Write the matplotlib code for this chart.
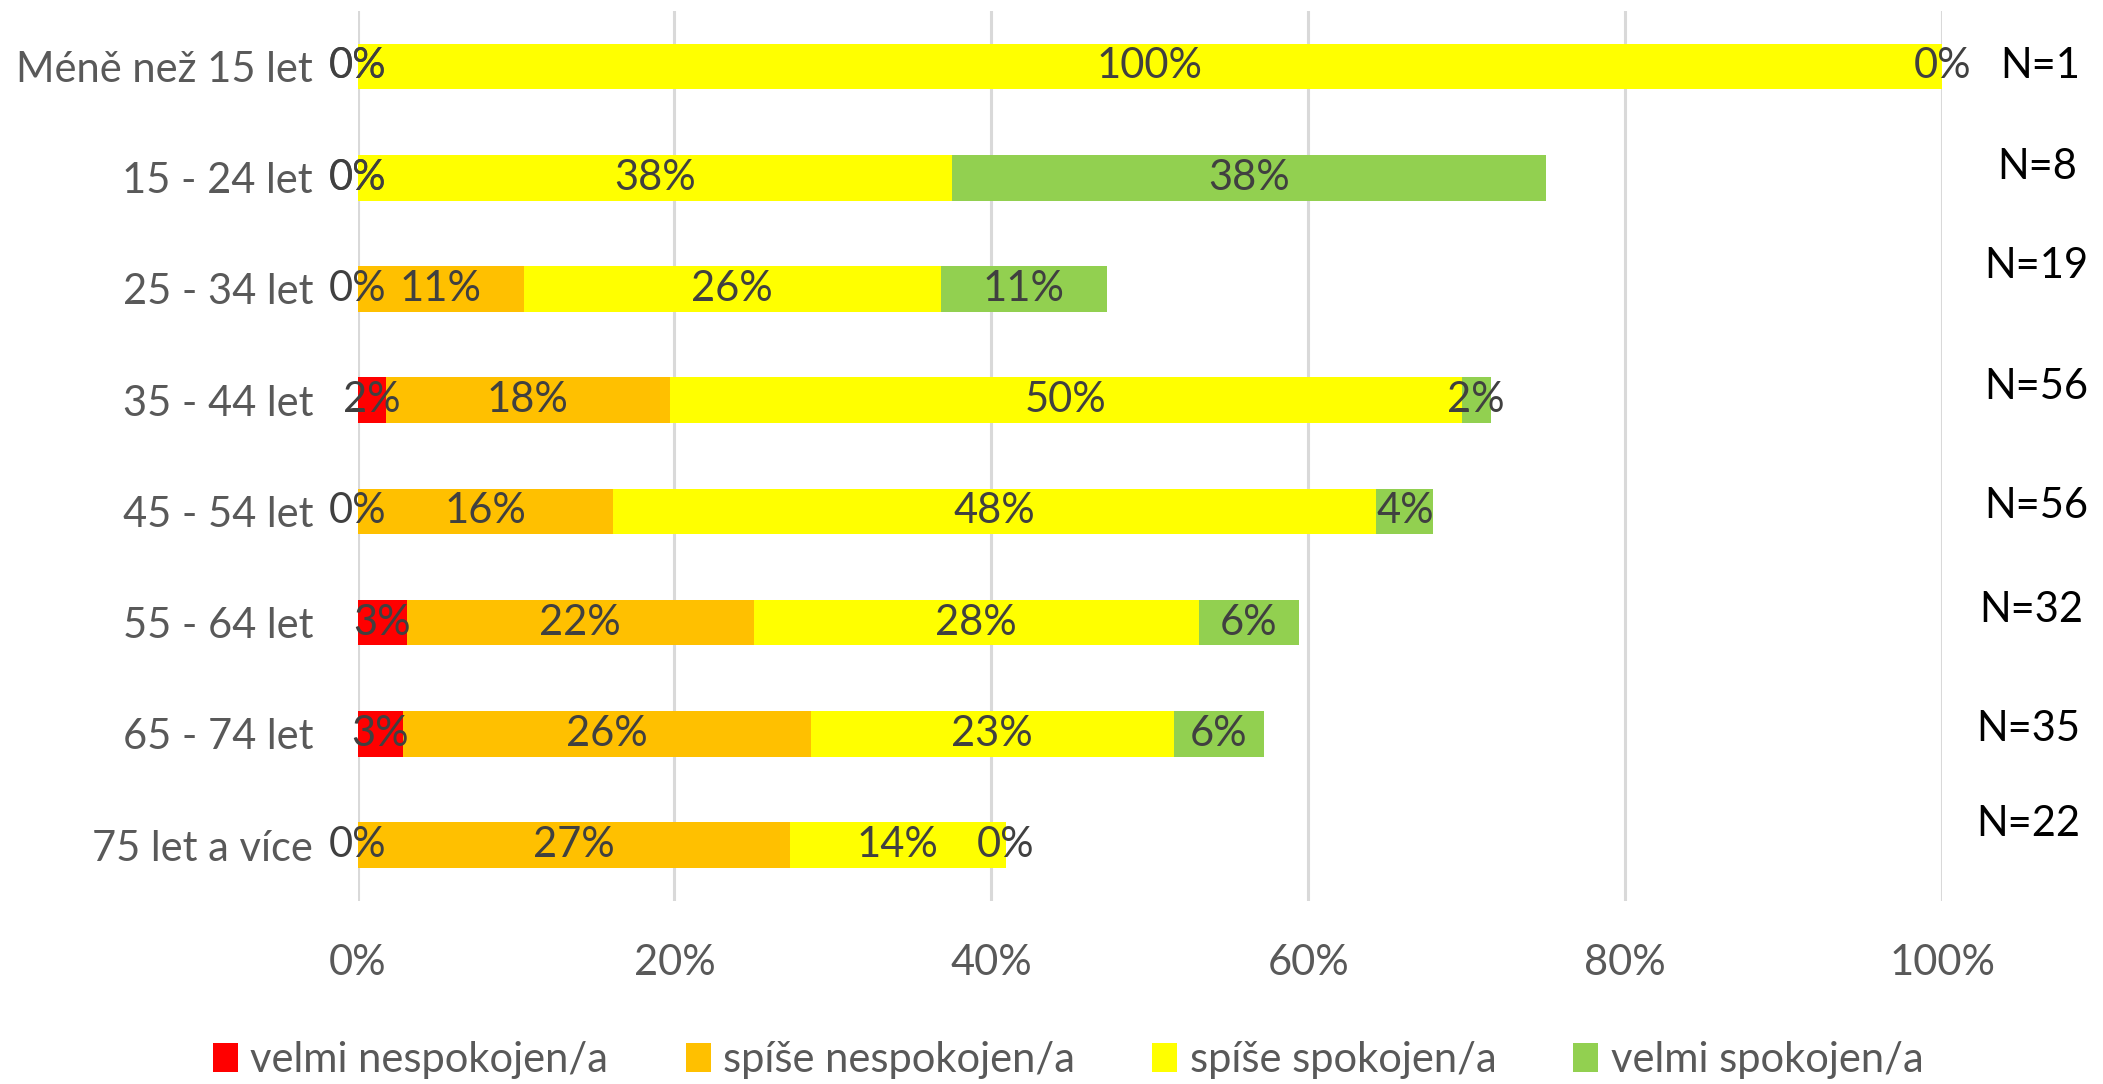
import numpy as np
import matplotlib
matplotlib.use("Agg")
import matplotlib.pyplot as plt
from matplotlib import font_manager as fm

categories = ["Méně než 15 let", "15 - 24 let", "25 - 34 let", "35 - 44 let",
              "45 - 54 let", "55 - 64 let", "65 - 74 let", "75 let a více"]
series_names = ["velmi nespokojen/a", "spíše nespokojen/a", "spíše spokojen/a", "velmi spokojen/a"]
velmi_nespokojen = [0, 0, 0, 1.8, 0, 3.1, 2.9, 0]
spise_nespokojen = [0, 0, 10.5, 17.9, 16.1, 21.9, 25.7, 27.3]
spise_spokojen = [100, 37.5, 26.3, 50.0, 48.2, 28.1, 22.9, 13.6]
velmi_spokojen = [0, 37.5, 10.5, 1.8, 3.6, 6.3, 5.7, 0]
n_labels = ["N=1", "N=8", "N=19", "N=56", "N=56", "N=32", "N=35", "N=22"]
x_ticks = [0, 20, 40, 60, 80, 100]

colors = ["#FF0000", "#FFC000", "#FFFF00", "#92D050"]

names = {f.name for f in fm.fontManager.ttflist}
fam = "Liberation Sans Narrow" if "Liberation Sans Narrow" in names else "Lato"
plt.rcParams['font.family'] = [fam, 'DejaVu Sans']

FS = 30
fig = plt.figure(figsize=(21.03, 10.84), dpi=100)
ax = fig.add_axes([0.170, 0.169, 0.7535, 0.821])

data = [velmi_nespokojen, spise_nespokojen, spise_spokojen, velmi_spokojen]
y = np.arange(len(categories))
left = np.zeros(len(categories))
for vals, col, name in zip(data, colors, series_names):
    vals = np.array(vals, dtype=float)
    ax.barh(y, vals, left=left, height=0.41, color=col, label=name, zorder=3)
    for yi, l, v in zip(y, left, vals):
        ax.text(l + v / 2, yi, f"{int(np.floor(v + 0.5))}%", ha="center", va="center",
                fontsize=FS, color="#404040", zorder=4, clip_on=False)
    left += vals

ax.set_ylim(len(categories) - 0.5, -0.5)
ax.set_xlim(0, 100)
ax.set_xticks(x_ticks)
ax.set_xticklabels([f"{t}%" for t in x_ticks])
ax.set_yticks(y)
ax.set_yticklabels(categories)
ax.tick_params(axis="x", length=0, pad=31, labelsize=FS, labelcolor="#595959")
ax.tick_params(axis="y", length=0, pad=32, labelsize=FS, labelcolor="#595959")
for s in ax.spines.values():
    s.set_visible(False)
ax.grid(axis="x", color="#D9D9D9", linewidth=2.2, zorder=0)
ax.set_axisbelow(True)

n_x = [108.7, 108.5, 109.2, 109.2, 109.2, 108.9, 108.7, 108.7]
n_dy = [0.0, -0.1, -0.21, -0.12, -0.05, -0.11, -0.04, -0.19]
for yi, lab, nx, dy in zip(y, n_labels, n_x, n_dy):
    ax.text(nx, yi + dy, lab, ha="right", va="center", fontsize=FS, color="black", clip_on=False)

fig.legend(loc="center", bbox_to_anchor=(0.508, 0.022), ncol=4, frameon=False,
           fontsize=FS, handlelength=0.6, handleheight=0.7, handletextpad=0.3,
           columnspacing=1.85, labelcolor="#595959")

fig.savefig("out.png", dpi=100)
